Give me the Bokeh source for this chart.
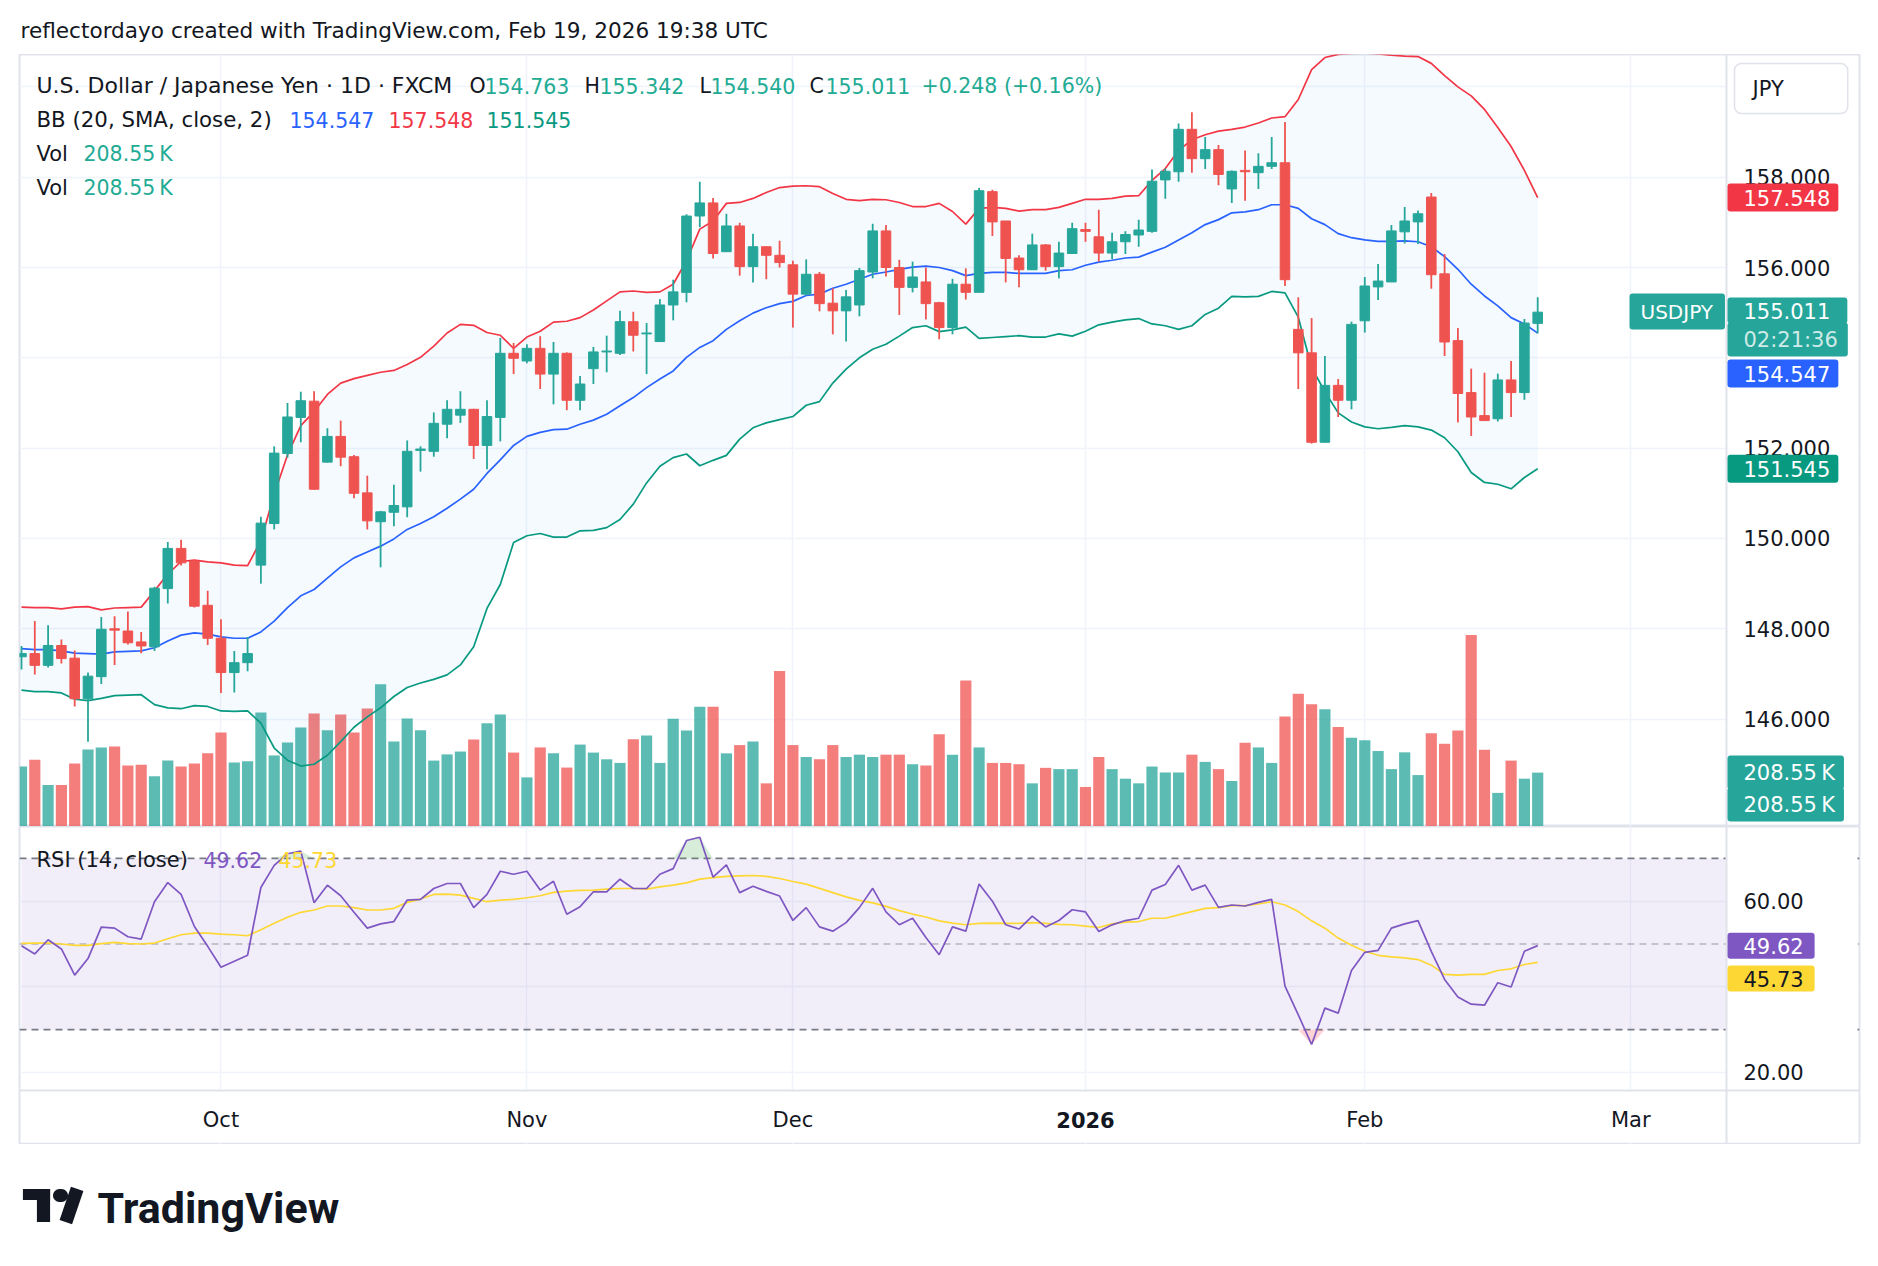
import numpy as np
import pandas as pd
from bokeh.plotting import figure
from bokeh.layouts import column
from bokeh.models import (ColumnDataSource, Range1d, FixedTicker, Grid, Label,
                          BoxAnnotation, Span, NumeralTickFormatter)
from bokeh.embed import file_html
from bokeh.resources import INLINE

# ---------------------------------------------------------------- data
# daily FX bars (Christmas Day and New Year's Day have no bar)
days = pd.bdate_range("2025-09-10", "2026-02-19")
days = days[~days.isin(pd.to_datetime(["2025-12-25", "2026-01-01"]))]
dates = [d.strftime("%Y-%m-%d") for d in days]

opens = [147.38, 147.45, 147.19, 147.63, 147.35, 146.45, 146.94, 148.00, 147.95, 147.71,
         147.60, 148.89, 149.78, 149.50, 148.52, 147.79, 147.03, 147.25, 149.41, 150.33,
         151.88, 152.68, 153.04, 151.69, 152.26, 151.81, 151.01, 150.37, 150.58, 150.70,
         151.95, 151.93, 152.53, 152.73, 152.86, 152.06, 152.68, 154.10, 153.93, 154.21,
         153.64, 154.10, 153.06, 153.76, 154.13, 154.10, 154.80, 154.53, 154.36, 155.17,
         155.45, 157.14, 157.43, 156.35, 156.92, 156.02, 156.46, 156.27, 156.06, 155.41,
         155.85, 155.21, 155.04, 155.17, 155.90, 156.81, 156.00, 155.56, 155.68, 155.22,
         154.67, 155.63, 155.45, 157.68, 157.03, 156.21, 155.95, 156.50, 156.02, 156.31,
         156.84, 156.68, 156.32, 156.57, 156.72, 156.80, 157.94, 158.12, 159.06, 158.41,
         158.61, 157.74, 158.15, 158.10, 158.24, 158.32, 154.63, 154.11, 152.13, 153.39,
         153.06, 154.82, 155.57, 155.68, 156.79, 157.01, 157.56, 155.86, 154.38, 153.23,
         152.72, 152.65, 153.51, 153.23, 154.763]
highs = [147.62, 148.17, 148.08, 147.76, 147.52, 147.03, 148.26, 148.28, 148.38, 147.93,
         148.93, 149.92, 149.97, 149.52, 148.84, 148.21, 147.51, 147.82, 150.48, 152.04,
         153.00, 153.25, 153.26, 152.44, 152.61, 151.85, 151.39, 150.61, 151.19, 152.17,
         152.04, 152.79, 153.06, 153.26, 152.87, 153.06, 154.44, 154.33, 154.30, 154.48,
         154.35, 154.12, 153.60, 154.24, 154.49, 155.04, 155.02, 154.77, 155.30, 155.73,
         157.18, 157.90, 157.54, 157.19, 156.99, 156.75, 156.46, 156.59, 156.15, 156.18,
         155.90, 155.54, 155.50, 155.99, 156.97, 156.94, 156.17, 156.13, 156.00, 155.24,
         155.75, 155.98, 157.76, 157.72, 157.03, 156.27, 156.75, 156.52, 156.57, 156.99,
         156.99, 157.28, 156.77, 156.80, 157.06, 158.17, 158.19, 159.19, 159.44, 158.89,
         158.71, 158.15, 158.59, 158.53, 158.89, 159.22, 155.34, 154.88, 154.04, 153.53,
         154.80, 155.79, 156.08, 156.94, 157.34, 157.26, 157.65, 156.30, 154.66, 153.76,
         153.67, 153.65, 153.93, 154.86, 155.342]
lows = [147.10, 146.99, 147.14, 147.23, 146.28, 145.50, 146.78, 147.20, 147.65, 147.46,
        147.51, 148.56, 149.40, 148.47, 147.64, 146.58, 146.59, 147.06, 149.00, 150.20,
        151.79, 152.13, 151.08, 151.68, 151.60, 150.89, 150.20, 149.36, 150.27, 150.47,
        151.48, 151.81, 152.22, 152.56, 151.76, 151.53, 152.15, 153.64, 153.88, 153.31,
        152.97, 152.84, 152.84, 153.42, 153.68, 154.06, 154.14, 153.64, 154.36, 154.83,
        155.23, 156.89, 156.20, 156.35, 155.82, 155.67, 155.74, 156.00, 154.67, 155.38,
        155.03, 154.52, 154.36, 154.92, 155.76, 155.80, 154.95, 155.45, 154.85, 154.41,
        154.52, 155.29, 155.45, 156.70, 155.67, 155.56, 155.95, 155.93, 155.76, 156.31,
        156.57, 156.13, 156.19, 156.30, 156.46, 156.77, 157.52, 157.90, 158.10, 158.18,
        157.82, 157.43, 157.48, 157.74, 158.18, 155.59, 153.31, 152.10, 152.13, 152.69,
        152.86, 154.56, 155.28, 155.68, 156.53, 156.52, 155.53, 154.04, 152.57, 152.27,
        152.61, 152.59, 152.69, 153.07, 154.540]
closes = [147.45, 147.19, 147.63, 147.34, 146.45, 146.95, 147.99, 147.97, 147.69, 147.62,
          148.90, 149.78, 149.46, 148.50, 147.79, 147.03, 147.25, 147.45, 150.34, 151.89,
          152.69, 153.05, 151.09, 152.26, 151.80, 151.00, 150.39, 150.59, 150.73, 151.93,
          151.98, 152.55, 152.86, 152.86, 152.06, 152.70, 154.10, 153.99, 154.21, 153.64,
          154.10, 153.06, 153.42, 154.13, 154.15, 154.80, 154.50, 154.55, 155.17, 155.46,
          157.14, 157.43, 156.31, 156.92, 156.02, 156.46, 156.27, 156.11, 155.41, 155.85,
          155.20, 155.04, 155.35, 155.93, 156.81, 156.00, 155.56, 155.79, 155.20, 154.67,
          155.63, 155.45, 157.70, 157.01, 156.20, 155.95, 156.50, 156.02, 156.32, 156.86,
          156.80, 156.32, 156.57, 156.73, 156.83, 157.91, 158.13, 159.06, 158.41, 158.61,
          158.06, 158.13, 158.12, 158.24, 158.32, 155.73, 154.11, 152.13, 153.39, 153.06,
          154.74, 155.59, 155.70, 156.81, 157.03, 157.19, 155.84, 154.35, 153.21, 152.69,
          152.61, 153.51, 153.23, 154.77, 155.011]
# volume, thousands
volume_k = [232, 258, 161, 161, 244, 298, 306, 310, 236, 239,
            194, 255, 232, 244, 283, 364, 248, 252, 441, 275,
            325, 383, 437, 372, 433, 364, 457, 550, 329, 418,
            372, 255, 279, 290, 337, 399, 433, 286, 190, 306,
            283, 228, 317, 286, 260, 246, 338, 352, 246, 417,
            371, 463, 463, 283, 315, 329, 167, 602, 315, 269,
            260, 315, 269, 278, 269, 278, 278, 241, 236, 357,
            278, 565, 306, 246, 246, 241, 167, 227, 222, 222,
            153, 269, 222, 185, 167, 232, 209, 209, 278, 250,
            222, 176, 324, 306, 246, 426, 514, 473, 454, 385,
            343, 334, 292, 222, 287, 199, 361, 320, 371, 741,
            297, 130, 255, 185, 208.55]
# Bollinger Bands (20, SMA, close, 2)
bb_upper = [148.48, 148.47, 148.47, 148.44, 148.48, 148.49, 148.42, 148.46, 148.47, 148.48,
            148.84, 149.21, 149.49, 149.52, 149.48, 149.46, 149.41, 149.40, 149.95, 150.98,
            151.85, 152.50, 152.81, 153.19, 153.44, 153.54, 153.61, 153.68, 153.72, 153.85,
            154.01, 154.26, 154.55, 154.74, 154.72, 154.56, 154.50, 154.21, 154.46, 154.59,
            154.79, 154.81, 154.89, 155.06, 155.26, 155.46, 155.48, 155.45, 155.46, 155.63,
            156.15, 156.85, 157.03, 157.42, 157.44, 157.53, 157.66, 157.77, 157.80, 157.81,
            157.79, 157.64, 157.51, 157.48, 157.51, 157.50, 157.44, 157.35, 157.35, 157.42,
            157.24, 156.96, 157.31, 157.33, 157.31, 157.25, 157.28, 157.28, 157.33, 157.42,
            157.51, 157.51, 157.53, 157.58, 157.59, 157.93, 158.19, 158.59, 158.83, 158.94,
            159.02, 159.06, 159.11, 159.20, 159.31, 159.34, 159.72, 160.38, 160.65, 160.72,
            160.74, 160.75, 160.73, 160.70, 160.68, 160.67, 160.52, 160.25, 160.00, 159.80,
            159.50, 159.10, 158.68, 158.15, 157.548]
bb_basis = [147.56, 147.54, 147.54, 147.51, 147.46, 147.45, 147.44, 147.49, 147.50, 147.51,
            147.58, 147.73, 147.86, 147.91, 147.88, 147.82, 147.79, 147.79, 147.93, 148.17,
            148.47, 148.73, 148.87, 149.12, 149.37, 149.57, 149.70, 149.83, 149.99, 150.20,
            150.33, 150.48, 150.67, 150.87, 151.09, 151.44, 151.74, 152.06, 152.26, 152.35,
            152.41, 152.42, 152.53, 152.62, 152.75, 152.94, 153.12, 153.34, 153.53, 153.71,
            154.01, 154.23, 154.38, 154.63, 154.82, 154.99, 155.11, 155.20, 155.25, 155.38,
            155.41, 155.54, 155.63, 155.74, 155.85, 155.90, 155.96, 156.01, 156.03, 156.00,
            155.93, 155.82, 155.87, 155.89, 155.89, 155.87, 155.87, 155.87, 155.93, 155.95,
            156.05, 156.12, 156.16, 156.21, 156.23, 156.34, 156.45, 156.61, 156.77, 156.95,
            157.06, 157.21, 157.23, 157.28, 157.39, 157.39, 157.31, 157.08, 156.95, 156.75,
            156.66, 156.61, 156.58, 156.58, 156.59, 156.57, 156.46, 156.24, 155.96, 155.63,
            155.37, 155.15, 154.89, 154.75, 154.547]
bb_lower = [146.64, 146.61, 146.61, 146.58, 146.44, 146.41, 146.46, 146.52, 146.53, 146.54,
            146.32, 146.25, 146.23, 146.30, 146.28, 146.18, 146.17, 146.18, 145.91, 145.36,
            145.09, 144.96, 145.00, 145.20, 145.50, 145.82, 146.05, 146.25, 146.50, 146.70,
            146.80, 146.88, 146.98, 147.20, 147.60, 148.45, 148.98, 149.91, 150.06, 150.11,
            150.03, 150.03, 150.17, 150.18, 150.24, 150.42, 150.76, 151.23, 151.60, 151.79,
            151.87, 151.61, 151.73, 151.84, 152.20, 152.45, 152.56, 152.63, 152.70, 152.95,
            153.03, 153.44, 153.75, 154.00, 154.19, 154.30, 154.48, 154.67, 154.71, 154.58,
            154.62, 154.68, 154.43, 154.45, 154.47, 154.49, 154.46, 154.46, 154.53, 154.48,
            154.59, 154.73, 154.79, 154.84, 154.87, 154.75, 154.71, 154.63, 154.71, 154.96,
            155.10, 155.36, 155.35, 155.36, 155.47, 155.44, 154.90, 153.78, 153.25, 152.78,
            152.58, 152.47, 152.43, 152.46, 152.50, 152.47, 152.40, 152.23, 151.92, 151.46,
            151.24, 151.20, 151.10, 151.35, 151.545]
# RSI (14, close) and its moving average
rsi = [49.61, 47.68, 51.00, 48.84, 42.74, 46.60, 53.94, 53.71, 51.70, 51.16,
       59.88, 64.36, 61.58, 54.09, 49.46, 44.59, 45.98, 47.37, 63.20, 68.38,
       71.08, 71.70, 59.65, 63.75, 61.27, 57.41, 53.71, 54.71, 55.25, 60.27,
       60.42, 62.97, 64.13, 64.13, 58.49, 61.58, 66.99, 66.29, 66.99, 62.59,
       64.67, 56.95, 58.73, 62.20, 62.20, 65.14, 62.97, 62.97, 66.29, 67.61,
       74.17, 74.94, 65.60, 68.50, 62.00, 63.50, 62.30, 61.20, 55.50, 58.50,
       54.00, 53.00, 55.00, 58.50, 63.00, 57.50, 54.50, 56.00, 51.50, 47.50,
       54.00, 53.00, 64.00, 60.00, 54.50, 53.50, 56.50, 54.00, 55.50, 58.00,
       57.50, 52.93, 54.48, 55.48, 56.02, 62.59, 63.90, 68.38, 62.59, 63.75,
       58.57, 59.11, 58.88, 59.73, 60.42, 40.19, 33.47, 26.53, 35.02, 33.86,
       43.82, 48.07, 48.53, 53.71, 54.71, 55.48, 48.30, 41.74, 37.64, 35.95,
       35.71, 40.97, 39.96, 48.30, 49.62]
rsi_ma = [50.15, 50.20, 50.23, 50.00, 49.69, 49.69, 50.08, 50.39, 50.08, 50.00,
          50.23, 51.24, 52.16, 52.55, 52.55, 52.32, 52.16, 51.93, 53.32, 54.86,
          56.25, 57.41, 57.95, 58.88, 58.88, 58.49, 57.95, 57.95, 58.34, 59.73,
          60.50, 61.58, 61.66, 61.43, 60.66, 59.88, 60.27, 60.42, 60.81, 61.27,
          62.05, 62.36, 62.51, 62.59, 62.82, 62.97, 62.97, 62.82, 63.36, 63.75,
          64.29, 65.14, 65.50, 65.80, 65.90, 66.00, 65.80, 65.30, 64.60, 64.00,
          63.00, 62.00, 61.00, 60.20, 59.60, 58.80, 57.80, 57.00, 56.30, 55.40,
          54.90, 54.50, 54.80, 54.90, 54.80, 54.80, 55.00, 54.80, 54.60, 54.50,
          54.20, 53.86, 54.71, 55.10, 55.25, 56.02, 56.02, 56.80, 57.57, 58.34,
          58.49, 58.96, 58.96, 59.34, 59.88, 59.11, 57.57, 55.41, 53.71, 51.39,
          49.69, 48.30, 47.37, 46.99, 46.76, 46.37, 45.06, 42.90, 42.74, 42.90,
          42.90, 43.82, 44.21, 45.21, 45.73]

month_names = ["Oct", "Nov", "Dec", "2026", "Feb", "Mar"]

# ---------------------------------------------------------------- layout helpers
W, H = 1878, 1266
BOX_L, BOX_R = 19, 1859        # chart box, left / right edge
SCALE_X = 1726                 # separator of the price-scale column
TOP_A, SPLIT, RSI_BOT, BOX_B = 54, 826, 1090, 1144
PX_BAR = 13.3
XA = -0.15                     # bar index at the left edge of the box
OL = 2                         # outline width


def bx(px):                    # page pixel -> bar index
    return XA + (px - BOX_L) / PX_BAR


def py(px):                    # page pixel -> price
    return 156.0 - (px - 267.0) / 45.16


def ry(px):                    # page pixel -> RSI value
    return 60.0 - (px - 900.7) / 4.282


VOL_PER_PX = 3.869

FONT = "DejaVu Sans"
INK = "#131722"
UP, DOWN = "#26a69a", "#ef5350"
GRID = "#f0f3fa"
LINE = "#e0e3eb"
TEAL_TXT = "#22ab94"

n = len(closes)
idx = np.arange(n)
colors = [UP if c >= o else DOWN for o, c in zip(opens, closes)]

# month boundaries (plus the first bar of March, beyond the last bar)
future = pd.bdate_range("2026-02-20", "2026-03-06")
all_days = list(days) + list(future)
month_ticks = [i for i in range(1, len(all_days))
               if all_days[i].month != all_days[i - 1].month and i >= 15][:6]

src = ColumnDataSource(dict(
    x=idx, open=opens, high=highs, low=lows, close=closes,
    top=np.maximum(opens, closes), bot=np.minimum(opens, closes),
    vol=volume_k, color=colors, date=dates,
    upper=bb_upper, basis=bb_basis, lower=bb_lower))


def base(height, y_range, x_axis=None, y_axis=None):
    p = figure(width=W, height=height, x_range=Range1d(bx(BOX_L), bx(BOX_R)),
               y_range=y_range, output_backend="svg", toolbar_location=None,
               x_axis_location=x_axis, y_axis_location=y_axis,
               min_border_left=BOX_L, min_border_right=W - BOX_R,
               min_border_top=0, min_border_bottom=0)
    p.background_fill_color = "white"
    p.border_fill_color = "white"
    p.outline_line_color = None
    for g in p.grid:
        g.visible = False
    return p


def pane(height, y_range, x_axis, label_standoff):
    p = base(height, y_range, x_axis, "right")
    p.outline_line_color = LINE
    p.outline_line_width = OL
    ax = p.yaxis[0]
    ax.axis_line_color = None
    ax.major_tick_line_color = None
    ax.minor_tick_line_color = None
    ax.major_tick_out = 0
    ax.major_tick_in = 0
    # tick labels sit inside the price-scale column
    ax.major_label_standoff = label_standoff
    ax.major_label_text_font = FONT
    ax.major_label_text_font_size = "21px"
    ax.major_label_text_color = INK
    p.add_layout(Grid(dimension=0, ticker=FixedTicker(ticks=month_ticks),
                      grid_line_color=GRID, grid_line_width=1.5))
    return p


def tag(p, text, y, bg, fg="white", pad_r=8, pad_v=6, y_range_name="default",
        size="21px", alpha=1.0, x_px=SCALE_X + 1):
    p.add_layout(Label(x=bx(x_px), y=y, text=text, text_font=FONT, text_font_size=size,
                       text_color=fg, text_alpha=alpha, text_align="left",
                       text_baseline="middle", background_fill_color=bg,
                       padding=dict(left=16, right=pad_r, top=pad_v, bottom=pad_v),
                       border_radius=3, y_range_name=y_range_name))


def txt(p, text, x_px, y, color=INK, size="20.5px", bold=False, align="left", font=FONT):
    p.add_layout(Label(x=bx(x_px), y=y, text=text, text_font=font, text_font_size=size,
                       text_color=color, text_align=align, text_baseline="middle",
                       text_font_style="bold" if bold else "normal"))


def scale_column(p, y_lo, y_hi):
    # white price-scale column hides the grid to the right of the separator
    p.add_layout(BoxAnnotation(left=bx(SCALE_X), right=bx(BOX_R - OL), bottom=y_lo, top=y_hi,
                               fill_color="white", fill_alpha=1.0, line_color=None,
                               level="underlay"))
    p.add_layout(Span(location=bx(SCALE_X), dimension="height", line_color=LINE,
                      line_width=2))


# ================================================================ header strip
pT = base(TOP_A, Range1d(TOP_A, 0))
txt(pT, "reflectordayo created with TradingView.com, Feb 19, 2026 19:38 UTC", 20, 30,
    size="21.6px")

# ================================================================ price pane
PR = Range1d(py(SPLIT), py(TOP_A))
pA = pane(SPLIT - TOP_A, PR, None, 1743 - BOX_R)
pA.extra_y_ranges = {"vol": Range1d(0, (SPLIT - TOP_A) * VOL_PER_PX)}
pA.add_layout(Grid(dimension=1, ticker=FixedTicker(ticks=list(range(146, 161, 2))),
                   grid_line_color=GRID, grid_line_width=1.5))
pA.yaxis[0].ticker = FixedTicker(ticks=[146, 148, 150, 152, 156, 158])
pA.yaxis[0].formatter = NumeralTickFormatter(format="0.000")
scale_column(pA, py(SPLIT - OL), py(TOP_A + OL))

pA.vbar(x="x", top="vol", bottom=0, width=0.84, fill_color="color", fill_alpha=0.75,
        line_color=None, y_range_name="vol", source=src)
pA.varea(x="x", y1="lower", y2="upper", fill_color="#2196f3", fill_alpha=0.05, source=src)
pA.line("x", "upper", color="#f23645", line_width=1.7, source=src)
pA.line("x", "basis", color="#2962ff", line_width=1.7, source=src)
pA.line("x", "lower", color="#089981", line_width=1.7, source=src)
pA.segment(x0="x", y0="low", x1="x", y1="high", color="color", line_width=1.8, source=src)
pA.vbar(x="x", top="top", bottom="bot", width=0.72, fill_color="color",
        line_color="color", line_width=1, source=src)

last = n - 1
line1 = [("U.S. Dollar / Japanese Yen · 1D · FXCM", 36, INK, "22px"),
         ("O", 469, INK, None), (f"{opens[last]:.3f}", 484, TEAL_TXT, None),
         ("H", 584, INK, None), (f"{highs[last]:.3f}", 599, TEAL_TXT, None),
         ("L", 699, INK, None), (f"{lows[last]:.3f}", 710, TEAL_TXT, None),
         ("C", 809, INK, None), (f"{closes[last]:.3f}", 825, TEAL_TXT, None),
         ("+0.248 (+0.16%)", 921, TEAL_TXT, None)]
for t, xp, c, s in line1:
    txt(pA, t, xp, py(85), c, size=s or "20.5px")
line2 = [("BB (20, SMA, close, 2)", 36, INK, "21.3px"),
         (f"{bb_basis[last]:.3f}", 289, "#2962ff", None),
         (f"{bb_upper[last]:.3f}", 388, "#f23645", None),
         (f"{bb_lower[last]:.3f}", 486, "#089981", None)]
for t, xp, c, s in line2:
    txt(pA, t, xp, py(119), c, size=s or "20.5px")
vol_txt = f"{volume_k[last]:.2f}\u202fK"
for yy in (153, 187):
    txt(pA, "Vol", 36, py(yy), size="21px")
    txt(pA, vol_txt, 83, py(yy), TEAL_TXT)

# currency button
pA.add_layout(Label(x=bx(1734), y=py(88), text="JPY", text_font=FONT, text_font_size="21px",
                    text_color=INK, text_align="left", text_baseline="middle",
                    background_fill_color="white", border_line_color=LINE,
                    border_line_width=1.5,
                    padding=dict(left=18, right=64, top=13, bottom=13), border_radius=7))

# price scale tags
tag(pA, f"{bb_upper[last]:.3f}", bb_upper[last], "#f23645")
tag(pA, f"{closes[last]:.3f}", py(310), UP, pad_r=17, pad_v=5)
tag(pA, "02:21:36", py(339), UP, pad_r=10, pad_v=5, alpha=0.78)
tag(pA, f"{bb_basis[last]:.3f}", py(373), "#2962ff")
tag(pA, f"{bb_lower[last]:.3f}", bb_lower[last], "#089981")
tag(pA, vol_txt, volume_k[last], UP, pad_r=9, pad_v=5, y_range_name="vol")
tag(pA, vol_txt, (SPLIT - 804) * VOL_PER_PX, UP, pad_r=9, pad_v=5, y_range_name="vol")
pA.add_layout(Label(x=bx(1629), y=py(311), text="USDJPY", text_font=FONT,
                    text_font_size="20px", text_color="white", text_align="left",
                    text_baseline="middle", background_fill_color=UP,
                    padding=dict(left=11, right=12, top=6, bottom=6), border_radius=3))

# ================================================================ RSI pane + time scale
RR = Range1d(ry(BOX_B), ry(SPLIT))
pB = pane(BOX_B - SPLIT, RR, "below", 1743 - BOX_R)
pB.add_layout(Grid(dimension=1, ticker=FixedTicker(ticks=[20, 40, 60]),
                   grid_line_color=GRID, grid_line_width=1.5))
pB.yaxis[0].ticker = FixedTicker(ticks=[20, 60])
pB.yaxis[0].formatter = NumeralTickFormatter(format="0.00")

xa = pB.xaxis[0]
xa.ticker = FixedTicker(ticks=month_ticks)
xa.major_label_overrides = {t: (m if m != "2026" else "") for t, m in zip(month_ticks, month_names)}
xa.axis_line_color = None
xa.major_tick_line_color = None
xa.minor_tick_line_color = None
xa.major_tick_out = 0
xa.major_tick_in = 0
xa.major_label_standoff = 1107 - BOX_B
xa.major_label_text_font = FONT
xa.major_label_text_font_size = "21px"
xa.major_label_text_color = INK

pB.add_layout(BoxAnnotation(bottom=30, top=70, left=bx(BOX_L + OL), right=bx(SCALE_X),
                            fill_color="#7e57c2", fill_alpha=0.1, line_color=None,
                            level="underlay"))
for lvl, a in ((70, 1.0), (50, 0.5), (30, 1.0)):
    pB.add_layout(Span(location=lvl, dimension="width", line_color="#787b86", line_alpha=a,
                       line_dash="7 5", line_width=1.6, level="underlay"))
# time-scale row below the RSI pane
pB.add_layout(BoxAnnotation(bottom=ry(BOX_B - OL), top=ry(RSI_BOT), left=bx(BOX_L + OL),
                            right=bx(SCALE_X), fill_color="white", fill_alpha=1.0,
                            line_color=None, level="underlay"))
scale_column(pB, ry(BOX_B - OL), ry(SPLIT + OL))
pB.add_layout(Span(location=ry(RSI_BOT), dimension="width", line_color=LINE, line_width=2))

rsi_arr = np.array(rsi)
pB.varea(x=idx, y1=70, y2=np.maximum(rsi_arr, 70), fill_color="#4caf50", fill_alpha=0.22)
pB.varea(x=idx, y1=np.minimum(rsi_arr, 30), y2=30, fill_color="#f23645", fill_alpha=0.22)
pB.line(idx, rsi_ma, color="#fdd835", line_width=1.7)
pB.line(idx, rsi, color="#7e57c2", line_width=1.7)

txt(pB, "RSI (14, close)", 36, ry(859), size="21px")
txt(pB, f"{rsi[last]:.2f}", 203, ry(859), "#7e57c2")
txt(pB, f"{rsi_ma[last]:.2f}", 278, ry(859), "#fdd835")
tag(pB, f"{rsi[last]:.2f}", rsi[last], "#7e57c2", pad_r=11, pad_v=5)
tag(pB, f"{rsi_ma[last]:.2f}", ry(978), "#fdd835", fg=INK, pad_r=11, pad_v=5)

# bold year label at the January boundary
year_tick = month_ticks[month_names.index("2026")]
pB.add_layout(Label(x=year_tick, y=ry(1119), text="2026", text_font=FONT,
                    text_font_size="21px", text_font_style="bold", text_color=INK,
                    text_align="center", text_baseline="middle"))

# ================================================================ footer wordmark
pC = base(H - BOX_B, Range1d(H, BOX_B))


def block(p, cx, cy, w, h, angle=0.0, radius=0):
    p.add_layout(Label(x=bx(cx), y=cy, text=" ", text_font=FONT, text_font_size="10px",
                       text_align="center", text_baseline="middle", angle=angle,
                       background_fill_color=INK,
                       padding=dict(left=max(int(w / 2) - 1, 0), right=max(int(w / 2) - 1, 0),
                                    top=max(int((h - 12) / 2), 0),
                                    bottom=max(int((h - 12) / 2), 0)),
                       border_radius=radius))


block(pC, 36, 1194, 26, 12)
block(pC, 43, 1205, 12, 34)
block(pC, 60, 1195, 14, 14, radius=7)
block(pC, 71, 1205, 12, 36, angle=-0.33)
txt(pC, "TradingView", 97, 1207, size="43px", bold=True, font="Roboto")

layout = column(pT, pA, pB, pC, spacing=0)
open("out.html", "w").write(file_html(layout, INLINE, title="USDJPY"))
